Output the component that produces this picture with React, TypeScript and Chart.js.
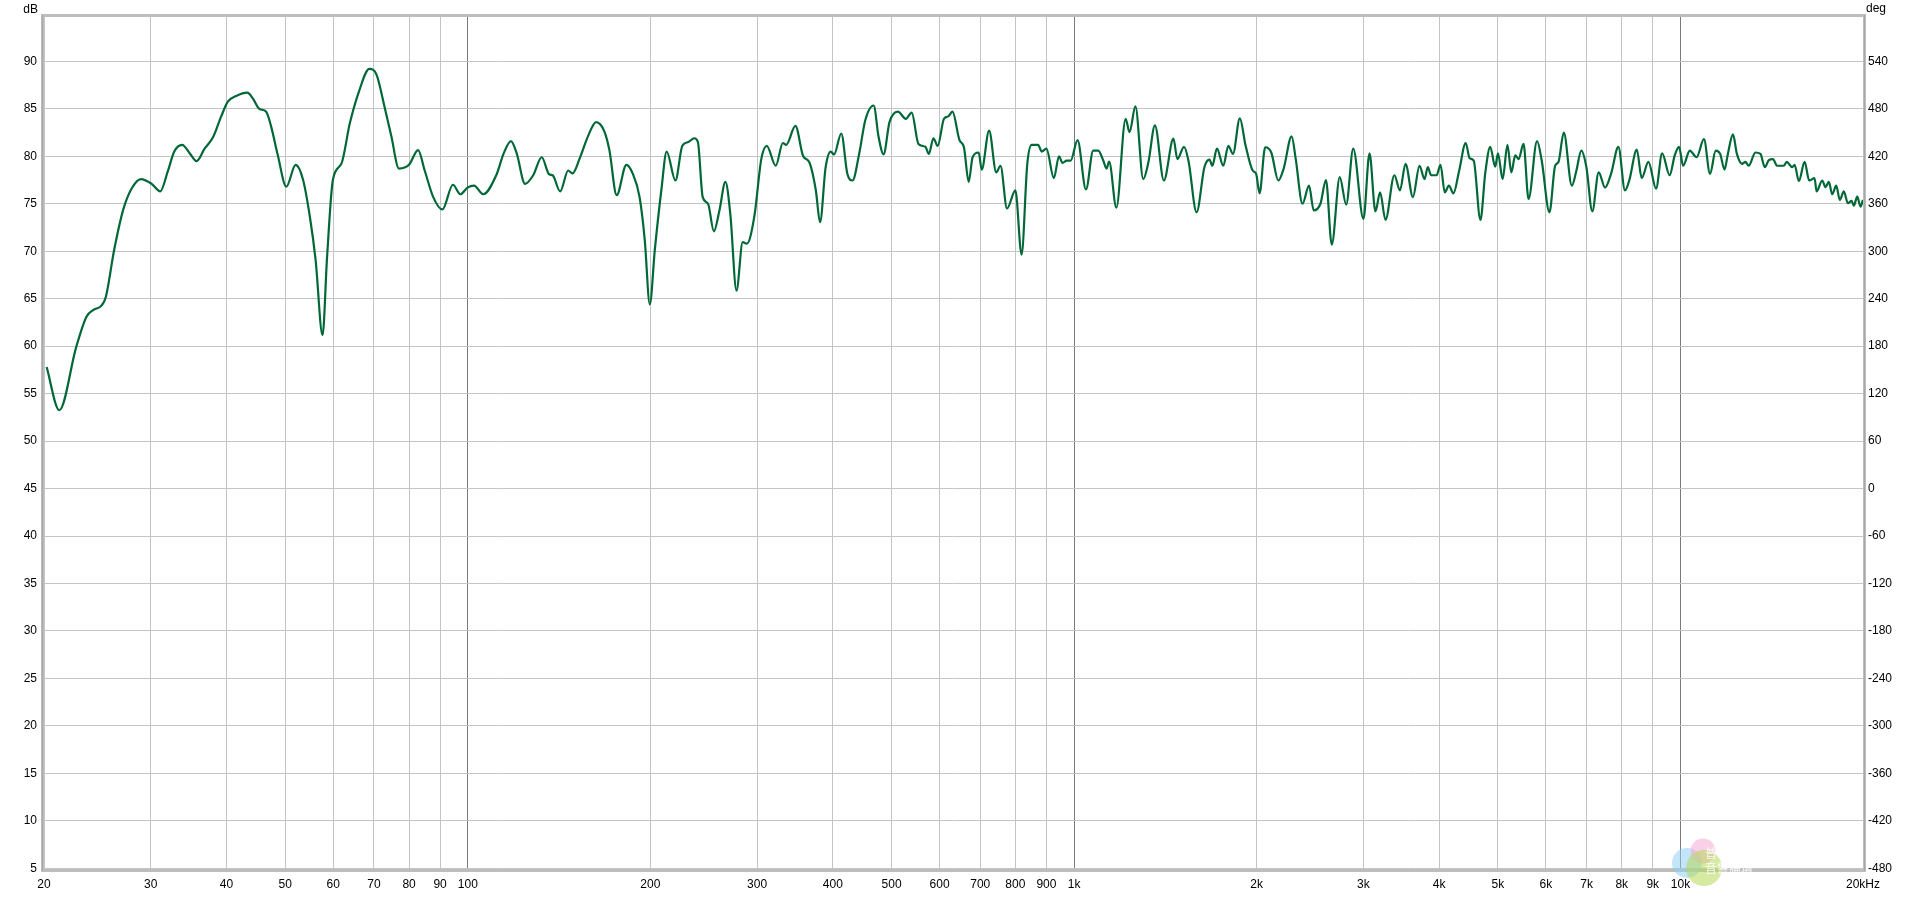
import { useEffect, useRef } from "react";
import { Chart, registerables } from "chart.js";

Chart.register(...registerables);

// Frequency (Hz) of each sampled point of the response curve
const FREQ_HZ = [
  20.2, 21.2, 22.6, 23.5, 24.1, 24.9, 25.3, 26.1, 27.0, 27.9, 28.9, 30.1, 31.1, 32.0, 32.8, 33.8, 34.8, 35.7, 36.8, 38.0,
  39.2, 40.2, 41.5, 43.3, 44.2, 45.3, 46.5, 47.4, 48.6, 50.2, 52.0, 53.5, 54.9, 56.1, 57.6, 58.6, 59.9, 61.9, 63.9, 66.2,
  68.8, 70.7, 72.9, 74.8, 77.0, 80.0, 82.8, 84.9, 87.7, 90.8, 94.5, 97.2, 99.9, 102.4, 106, 111.4, 114.6, 117.8, 120.4, 124.3,
  128.2, 132.4, 136.2, 138, 142, 146.4, 148.8, 153, 157.8, 162.8, 168, 171.2, 176, 182.6, 187, 192, 195.8, 199.6, 203.4, 208.6,
  212.8, 220, 225.8, 231, 236.4, 239.6, 244, 249, 254.6, 260, 266, 271, 277.4, 284, 288.6, 297, 304.8, 311.2, 322, 330.8,
  335, 347, 357.4, 365.6, 375, 381, 389.2, 396.8, 401.8, 413, 422.6, 431, 442, 452.4, 467, 476, 485, 496, 512, 527.8,
  539.6, 553.6, 568.4, 576, 586, 595.6, 610, 620, 630, 647, 658, 670, 680, 696, 704, 724, 744, 756, 775, 800,
  819, 837, 851, 872, 884, 900, 926, 944, 957, 972, 987, 1013, 1046, 1075, 1096, 1117, 1131, 1142, 1174, 1216,
  1234, 1262, 1300, 1326, 1359, 1406, 1458, 1480, 1518, 1544, 1592, 1640, 1672, 1690, 1720, 1762, 1796, 1828, 1876, 1918,
  1970, 1996, 2022, 2066, 2114, 2172, 2216, 2284, 2320, 2380, 2440, 2484, 2548, 2602, 2660, 2742, 2810, 2886, 3000, 3070,
  3140, 3196, 3262, 3374, 3446, 3520, 3620, 3712, 3784, 3830, 3880, 3960, 4020, 4086, 4150, 4222, 4316, 4424, 4490, 4560,
  4678, 4766, 4856, 4948, 5000, 5090, 5184, 5260, 5340, 5408, 5510, 5616, 5800, 5904, 6080, 6212, 6292, 6420, 6620, 6730,
  6862, 6996, 7154, 7330, 7510, 7682, 7900, 8100, 8232, 8472, 8630, 8854, 9114, 9328, 9596, 9784, 9946, 10100, 10362, 10630,
  10932, 11188, 11432, 11626, 11822, 11972, 12206, 12390, 12630, 12798, 12956, 13294, 13550, 13774, 13988, 14204, 14440, 14806, 14970, 15286,
  15424, 15676, 16024, 16304, 16636, 16772, 17130, 17346, 17566, 17794, 18066, 18316, 18596, 18882, 19148, 19316, 19568, 19810, 20000,
];

// Sound pressure level (dB) at each frequency above
const SPL_DB = [
  57.8, 53.25, 59.9, 63.1, 63.8, 64.3, 65.2, 70.1, 74.3, 76.6, 77.6, 77.1, 76.3, 78.4, 80.5, 81.2, 80.3, 79.5, 80.8, 82.0,
  84.2, 85.75, 86.35, 86.7, 86.1, 85.0, 84.7, 83.1, 80.1, 76.8, 79.1, 77.5, 73.6, 69.1, 61.15, 69.4, 77.5, 79.25, 83.5, 86.9,
  89.2, 88.6, 85.2, 82.1, 78.7, 79.1, 80.65, 78.5, 75.7, 74.4, 77.0, 76.0, 76.7, 76.9, 76.0, 78.0, 80.3, 81.6, 80.3, 77.1,
  78.0, 79.9, 78.1, 78.0, 76.3, 78.5, 78.2, 79.8, 82.1, 83.6, 82.6, 80.65, 75.9, 79.1, 78.2, 75.7, 71.2, 64.4, 70.1, 76.5,
  80.5, 77.45, 81.1, 81.5, 81.9, 81.5, 75.7, 75.0, 72.1, 74.3, 77.3, 73.9, 65.85, 70.95, 70.8, 73.75, 79.7, 81.1, 79.0, 81.4,
  81.2, 83.2, 80.0, 79.4, 76.4, 73.05, 78.85, 80.5, 80.2, 82.4, 78.15, 77.45, 80.25, 83.8, 85.35, 82.0, 80.2, 83.6, 84.7, 83.95,
  84.6, 81.3, 81.0, 80.25, 81.9, 81.1, 83.95, 84.2, 84.7, 81.7, 80.95, 77.3, 79.9, 80.4, 78.6, 82.7, 78.3, 79.0, 74.5, 76.4,
  69.65, 79.2, 81.2, 81.2, 80.5, 80.8, 77.7, 80.0, 79.3, 79.55, 79.55, 81.7, 76.5, 80.6, 80.6, 79.55, 78.7, 79.45, 74.6, 83.95,
  82.55, 85.25, 77.6, 79.4, 83.25, 77.45, 81.85, 79.7, 81.0, 79.5, 74.1, 78.85, 79.65, 79.0, 80.8, 79.0, 81.1, 80.25, 84.0, 81.1,
  78.5, 78.15, 76.1, 80.95, 80.4, 77.45, 78.7, 82.1, 79.7, 75.0, 76.9, 74.3, 75.0, 77.5, 70.7, 77.8, 74.9, 80.8, 73.4, 80.3,
  74.2, 76.2, 73.3, 78.0, 76.4, 79.2, 75.7, 79.0, 77.6, 78.85, 78.0, 78.0, 79.1, 76.2, 76.9, 76.1, 78.5, 81.4, 79.8, 79.55,
  73.3, 78.3, 81.0, 78.9, 80.3, 77.6, 81.2, 78.3, 80.1, 79.7, 81.3, 75.5, 81.6, 79.55, 74.1, 79.0, 79.4, 82.5, 76.9, 78.4,
  80.6, 78.85, 74.2, 78.3, 76.7, 78.15, 81.0, 76.4, 77.45, 80.7, 77.7, 79.4, 76.6, 80.3, 78.0, 80.1, 81.0, 79.0, 80.6, 79.9,
  81.8, 78.15, 80.6, 80.25, 78.6, 80.25, 82.3, 80.25, 79.2, 79.4, 79.0, 80.4, 80.25, 78.85, 79.6, 79.7, 79.0, 79.0, 79.4, 78.85,
  79.1, 77.4, 79.4, 77.45, 77.7, 76.3, 77.45, 76.75, 77.3, 76.0, 76.9, 75.4, 76.3, 75.05, 75.3, 74.8, 75.75, 74.7, 75.4,
];

const X_TICKS = [
  20, 30, 40, 50, 60, 70, 80, 90, 100, 200, 300, 400, 500, 600, 700, 800, 900, 1000,
  2000, 3000, 4000, 5000, 6000, 7000, 8000, 9000, 10000, 20000,
];
const X_TICK_LABELS = [
  "20", "30", "40", "50", "60", "70", "80", "90", "100", "200", "300", "400", "500", "600", "700", "800", "900", "1k",
  "2k", "3k", "4k", "5k", "6k", "7k", "8k", "9k", "10k", "20kHz",
];
const X_MAJOR = [100, 1000, 10000];
const DB_TICKS = [5, 10, 15, 20, 25, 30, 35, 40, 45, 50, 55, 60, 65, 70, 75, 80, 85, 90];
const DEG_TICKS = [-480, -420, -360, -300, -240, -180, -120, -60, 0, 60, 120, 180, 240, 300, 360, 420, 480, 540];

const DB_MIN = 4.93;
const DB_MAX = 94.67;
const FONT = "'Liberation Sans', Arial, sans-serif";

const framePlugin = {
  id: "frame",
  afterDraw(chart: any) {
    const { ctx, chartArea } = chart;
    const { left, right, top, bottom } = chartArea;
    ctx.save();
    // frame
    ctx.lineWidth = 3;
    ctx.strokeStyle = "#bdbdbd";
    ctx.strokeRect(left - 1.5, top - 1.5, right - left + 3, bottom - top + 3);
    ctx.lineWidth = 1;
    ctx.strokeStyle = "#a8a8a8";
    ctx.beginPath();
    ctx.moveTo(left - 1.5, top - 2);
    ctx.lineTo(left - 1.5, bottom + 2);
    ctx.moveTo(right + 1.5, top - 2);
    ctx.lineTo(right + 1.5, bottom + 2);
    ctx.stroke();
    // unit labels
    ctx.fillStyle = "#000";
    ctx.font = `12px ${FONT}`;
    ctx.textBaseline = "alphabetic";
    ctx.textAlign = "right";
    ctx.fillText("dB", 38, 13);
    ctx.textAlign = "left";
    ctx.fillText("deg", 1866, 12);
    // watermark
    ctx.globalAlpha = 0.55;
    ctx.fillStyle = "#8fd0f5";
    ctx.beginPath();
    ctx.arc(1687, 863, 15, 0, Math.PI * 2);
    ctx.fill();
    ctx.fillStyle = "#f5a8d6";
    ctx.beginPath();
    ctx.arc(1703, 851, 12.5, 0, Math.PI * 2);
    ctx.fill();
    ctx.fillStyle = "#b5d957";
    ctx.beginPath();
    ctx.arc(1704, 868, 18, 0, Math.PI * 2);
    ctx.fill();
    ctx.globalAlpha = 0.9;
    ctx.fillStyle = "#ffffff";
    ctx.font = `12px 'Noto Sans CJK TC', sans-serif`;
    ctx.textAlign = "left";
    ctx.fillText("普", 1705, 858);
    ctx.fillText("音響論壇", 1705, 873);
    ctx.restore();
  },
};

export default function App() {
  const ref = useRef<HTMLCanvasElement | null>(null);

  useEffect(() => {
    const canvas = ref.current;
    if (!canvas) return;
    const points = FREQ_HZ.map((f, i) => ({ x: f, y: SPL_DB[i] }));
    const chart = new Chart(canvas, {
      type: "line",
      data: {
        datasets: [
          {
            data: points,
            borderColor: "#006837",
            borderWidth: 2.2,
            pointRadius: 0,
            cubicInterpolationMode: "monotone",
            fill: false,
          },
        ],
      },
      options: {
        animation: false,
        responsive: false,
        events: [],
        layout: { padding: { top: 17, left: 0, right: 0, bottom: 0 } },
        plugins: { legend: { display: false }, tooltip: { enabled: false } },
        scales: {
          x: {
            type: "logarithmic",
            min: 20,
            max: 20000,
            afterBuildTicks: (scale: any) => {
              scale.ticks = X_TICKS.map((v) => ({ value: v }));
            },
            afterFit: (scale: any) => {
              scale.height = 29;
            },
            ticks: {
              autoSkip: false,
              maxRotation: 0,
              minRotation: 0,
              padding: 8,
              color: "#000",
              font: { family: FONT, size: 12 },
              callback: (value: any) => {
                const i = X_TICKS.indexOf(Number(value));
                return i >= 0 ? X_TICK_LABELS[i] : "";
              },
            },
            grid: {
              drawTicks: false,
              color: (ctx: any) => (ctx.tick && X_MAJOR.includes(ctx.tick.value) ? "#7a7a7a" : "#c4c4c4"),
              lineWidth: 1,
            },
            border: { display: false },
          },
          y: {
            type: "linear",
            position: "left",
            min: DB_MIN,
            max: DB_MAX,
            afterBuildTicks: (scale: any) => {
              scale.ticks = DB_TICKS.map((v) => ({ value: v }));
            },
            afterFit: (scale: any) => {
              scale.width = 44;
            },
            ticks: {
              padding: 7,
              color: "#000",
              font: { family: FONT, size: 12 },
              callback: (v: any) => String(v),
            },
            grid: { drawTicks: false, color: "#c4c4c4", lineWidth: 1 },
            border: { display: false },
          },
          y2: {
            type: "linear",
            position: "right",
            min: (DB_MIN - 45) * 12,
            max: (DB_MAX - 45) * 12,
            afterBuildTicks: (scale: any) => {
              scale.ticks = DEG_TICKS.map((v) => ({ value: v }));
            },
            afterFit: (scale: any) => {
              scale.width = 57;
            },
            ticks: {
              padding: 5,
              color: "#000",
              font: { family: FONT, size: 12 },
              callback: (v: any) => String(v),
            },
            grid: { display: false, drawTicks: false },
            border: { display: false },
          },
        },
      },
      plugins: [framePlugin],
    } as any);
    return () => chart.destroy();
  }, []);

  return (
    <div style={{ position: "fixed", left: 0, top: 0, width: 1920, height: 898, background: "#fff" }}>
      <canvas ref={ref} width={1920} height={898} style={{ display: "block" }} />
    </div>
  );
}
